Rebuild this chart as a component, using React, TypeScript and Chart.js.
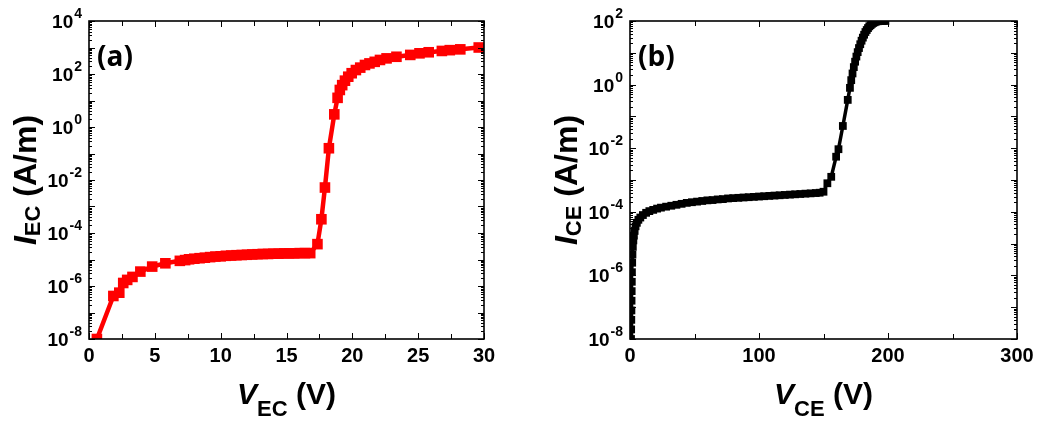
import React, { useEffect, useRef } from 'react';
import { Chart, registerables } from 'chart.js';

Chart.register(...registerables);

// ---------- Panel (a): I_EC vs V_EC ----------
const V_EC = [0.6, 1.85, 2.3, 2.6, 2.9, 3.3, 3.9, 4.8, 5.8, 6.9,
  7.3, 7.6, 8.0, 8.4, 8.8, 9.2, 9.6, 10.0, 10.4, 10.8,
  11.2, 11.6, 12.0, 12.4, 12.8, 13.2, 13.6, 14.0, 14.4, 14.8,
  15.2, 15.6, 16.0, 16.4, 16.8, 17.35, 17.65, 17.92, 18.22, 18.63,
  18.88, 19.05, 19.23, 19.44, 19.69, 19.95, 20.27, 20.6, 20.96, 21.3,
  21.7, 22.1, 22.6, 23.35, 24.4, 25.1, 25.8, 26.8, 27.4, 28.2, 29.6];
const I_EC = [1.0e-8, 4.2e-7, 5.6e-7, 1.3e-6, 1.7e-6, 2.2e-6, 3.5e-6, 5.4e-6, 7.2e-6, 8.9e-6,
  9.5e-6, 1.02e-5, 1.07e-5, 1.12e-5, 1.17e-5, 1.23e-5, 1.29e-5, 1.32e-5, 1.38e-5, 1.41e-5,
  1.45e-5, 1.48e-5, 1.51e-5, 1.55e-5, 1.58e-5, 1.62e-5, 1.62e-5, 1.66e-5, 1.66e-5, 1.70e-5,
  1.70e-5, 1.70e-5, 1.74e-5, 1.74e-5, 1.74e-5, 3.8e-5, 3.3e-4, 5.2e-3, 0.158, 3.0,
  12.6, 25, 38, 56, 79, 107, 141, 174, 219, 251,
  288, 339, 389, 447, 525, 603, 661, 741, 794, 851, 1000];

// ---------- Panel (b): I_CE vs V_CE ----------
const V_CE = [0.8, 0.9, 1.0, 1.1, 1.2, 1.3, 1.4, 1.5, 1.7, 1.9,
  2.2, 2.6, 3.0, 3.6, 4.3, 5.3, 6.5, 8, 10, 12.5,
  15, 18, 21, 24, 28, 32, 36, 40, 44, 48,
  52, 56, 60, 64, 68, 72, 76, 80, 84, 88,
  92, 96, 100, 104, 108, 112, 116, 120, 124, 128,
  132, 136, 140, 144, 147, 150, 153, 156, 159.8, 161.6,
  165, 168.8, 170.5, 171.5, 172.5, 173.5, 174.5, 175.5, 176.5, 177.5,
  178.5, 179.5, 180.5, 181.5, 182.5, 183.5, 184.5, 185.5, 186.5, 187.5,
  188.5, 189.5, 190.5, 192, 194, 196, 198];
const I_CE = [1.0e-8, 2.0e-8, 4.0e-8, 7.9e-8, 1.6e-7, 3.2e-7, 6.3e-7, 1.26e-6, 2.5e-6, 4.5e-6,
  7.9e-6, 1.26e-5, 1.78e-5, 2.5e-5, 3.5e-5, 4.5e-5, 5.6e-5, 6.6e-5, 7.9e-5, 9.3e-5,
  1.05e-4, 1.15e-4, 1.26e-4, 1.35e-4, 1.45e-4, 1.55e-4, 1.66e-4, 1.78e-4, 1.91e-4, 2.0e-4,
  2.09e-4, 2.19e-4, 2.29e-4, 2.34e-4, 2.45e-4, 2.51e-4, 2.63e-4, 2.69e-4, 2.75e-4, 2.82e-4,
  2.88e-4, 2.95e-4, 3.02e-4, 3.09e-4, 3.16e-4, 3.24e-4, 3.31e-4, 3.39e-4, 3.47e-4, 3.55e-4,
  3.63e-4, 3.72e-4, 3.80e-4, 3.89e-4, 3.98e-4, 4.27e-4, 7.9e-4, 1.26e-3, 5.4e-3, 9.3e-3,
  5.0e-2, 0.33, 0.79, 1.38, 2.24, 3.55, 5.25, 7.6, 10.5, 14.1,
  18.6, 24, 30, 37, 45, 52, 60, 68, 74, 81,
  87, 91, 95, 98, 100, 100, 100];

// ---------- Tick labels ----------
const X_TICKS_A = [0, 5, 10, 15, 20, 25, 30];
const X_TICKS_B = [0, 100, 200, 300];
const Y_EXP_A = [-8, -6, -4, -2, 0, 2, 4];
const Y_EXP_B = [-8, -6, -4, -2, 0, 2];

const FONT = '"Liberation Sans", Arial, sans-serif';

type PanelCfg = {
  xs: number[]; ys: number[]; color: string;
  xMax: number; yMinExp: number; yMaxExp: number;
  xTicks: number[]; yExps: number[];
  tag: string; xName: string; xSub: string; yName: string; ySub: string;
  pad: { left: number; right: number; top: number; bottom: number };
  pointR: number; lineW: number;
};

function drawRich(ctx: CanvasRenderingContext2D, parts: { t: string; font: string; dy: number }[], cx: number, by: number) {
  let total = 0;
  const widths = parts.map(p => { ctx.font = p.font; const w = ctx.measureText(p.t).width; total += w; return w; });
  let x = cx - total / 2;
  ctx.textAlign = 'left';
  ctx.textBaseline = 'alphabetic';
  parts.forEach((p, i) => { ctx.font = p.font; ctx.fillText(p.t, x, by + p.dy); x += widths[i]; });
}

function makeDecor(cfg: PanelCfg) {
  return {
    id: 'decor',
    afterDatasetsDraw(chart: any) {
      const { ctx, chartArea: ca, scales } = chart;
      const xs = scales.x, ys = scales.y;
      ctx.save();
      ctx.fillStyle = '#000';
      ctx.strokeStyle = '#000';
      // ticks
      ctx.lineWidth = 1;
      ctx.beginPath();
      const step = cfg.xTicks[1] - cfg.xTicks[0];
      for (let i = 0; i < cfg.xTicks.length; i++) {
        const vals = [cfg.xTicks[i]];
        if (i < cfg.xTicks.length - 1) vals.push(cfg.xTicks[i] + step / 2);
        vals.forEach((v, k) => {
          const px = Math.round(xs.getPixelForValue(v)) + 0.5;
          const len = k === 0 ? 6 : 5;
          ctx.moveTo(px, ca.bottom); ctx.lineTo(px, ca.bottom - len);
          ctx.moveTo(px, ca.top); ctx.lineTo(px, ca.top + len);
        });
      }
      for (let e = cfg.yMinExp; e <= cfg.yMaxExp; e++) {
        const py = Math.round(ys.getPixelForValue(Math.pow(10, e))) + 0.5;
        ctx.moveTo(ca.left, py); ctx.lineTo(ca.left + 6, py);
        ctx.moveTo(ca.right, py); ctx.lineTo(ca.right - 6, py);
        if (e < cfg.yMaxExp) {
          for (let m = 2; m <= 9; m++) {
            const q = Math.round(ys.getPixelForValue(m * Math.pow(10, e))) + 0.5;
            ctx.moveTo(ca.left, q); ctx.lineTo(ca.left + 3, q);
            ctx.moveTo(ca.right, q); ctx.lineTo(ca.right - 3, q);
          }
        }
      }
      ctx.stroke();
      // frame
      ctx.lineWidth = 1.6;
      ctx.strokeRect(ca.left, ca.top, ca.right - ca.left, ca.bottom - ca.top);

      // x tick labels
      ctx.font = `bold 20px ${FONT}`;
      ctx.textAlign = 'center';
      ctx.textBaseline = 'alphabetic';
      cfg.xTicks.forEach(v => {
        ctx.fillText(String(v), xs.getPixelForValue(v), ca.bottom + 23);
      });
      // y tick labels 10^e
      cfg.yExps.forEach(e => {
        const py = ys.getPixelForValue(Math.pow(10, e));
        ctx.font = `bold 14px ${FONT}`;
        const es = String(e);
        const ew = ctx.measureText(es).width;
        ctx.font = `bold 19px ${FONT}`;
        const bw = ctx.measureText('10').width;
        const right = ca.left - 7;
        ctx.textAlign = 'left';
        ctx.fillText('10', right - ew - 1 - bw, py + 7);
        ctx.font = `bold 14px ${FONT}`;
        ctx.fillText(es, right - ew, py - 3);
      });
      // x title
      const cx = (ca.left + ca.right) / 2;
      drawRich(ctx, [
        { t: cfg.xName, font: `italic bold 30px ${FONT}`, dy: 0 },
        { t: cfg.xSub, font: `bold 22px ${FONT}`, dy: 12 },
        { t: ' (V)', font: `bold 30px ${FONT}`, dy: 0 },
      ], cx, ca.bottom + 65);
      // y title
      const cy = (ca.top + ca.bottom) / 2;
      ctx.save();
      ctx.translate(ca.left - 53, cy);
      ctx.rotate(-Math.PI / 2);
      drawRich(ctx, [
        { t: cfg.yName, font: `italic bold 32px ${FONT}`, dy: 0 },
        { t: cfg.ySub, font: `bold 22px ${FONT}`, dy: 4 },
        { t: ' (A/m)', font: `bold 32px ${FONT}`, dy: 0 },
      ], 0, 0);
      ctx.restore();
      // panel tag
      ctx.font = `bold 28px "Open Sans", ${FONT}`;
      ctx.textAlign = 'left';
      ctx.fillText(cfg.tag, ca.left + 8, ca.top + 45);
      ctx.restore();
    },
  };
}

function Panel({ cfg, left }: { cfg: PanelCfg; left: number }) {
  const ref = useRef<HTMLCanvasElement | null>(null);
  useEffect(() => {
    if (!ref.current) return;
    const chart = new Chart(ref.current, {
      type: 'scatter',
      data: {
        datasets: [{
          data: cfg.xs.map((x, i) => ({ x, y: cfg.ys[i] })),
          showLine: true,
          borderColor: cfg.color,
          borderWidth: cfg.lineW,
          backgroundColor: cfg.color,
          pointStyle: 'rect',
          pointRadius: cfg.pointR,
          pointBorderWidth: 0,
          pointBackgroundColor: cfg.color,
          tension: 0,
          clip: 0,
        } as any],
      },
      options: {
        animation: false,
        responsive: false,
        devicePixelRatio: 1,
        layout: { padding: cfg.pad },
        plugins: { legend: { display: false }, tooltip: { enabled: false } },
        scales: {
          x: { type: 'linear', min: 0, max: cfg.xMax, display: false },
          y: { type: 'logarithmic', min: Math.pow(10, cfg.yMinExp), max: Math.pow(10, cfg.yMaxExp), display: false },
        },
      },
      plugins: [makeDecor(cfg)],
    });
    return () => chart.destroy();
  }, [cfg]);
  return (
    <canvas ref={ref} width={526} height={423}
      style={{ position: 'absolute', left, top: 0, width: 526, height: 423 }} />
  );
}

const CFG_A: PanelCfg = {
  xs: V_EC, ys: I_EC, color: '#ff0000', xMax: 30, yMinExp: -8, yMaxExp: 4,
  xTicks: X_TICKS_A, yExps: Y_EXP_A, tag: '(a)', xName: 'V', xSub: 'EC', yName: 'I', ySub: 'EC',
  pad: { left: 89, right: 42, top: 21, bottom: 84 }, pointR: 7.5, lineW: 4.5,
};
const CFG_B: PanelCfg = {
  xs: V_CE, ys: I_CE, color: '#000000', xMax: 300, yMinExp: -8, yMaxExp: 2,
  xTicks: X_TICKS_B, yExps: Y_EXP_B, tag: '(b)', xName: 'V', xSub: 'CE', yName: 'I', ySub: 'CE',
  pad: { left: 104, right: 35, top: 21, bottom: 84 }, pointR: 5.5, lineW: 3.5,
};

export default function App() {
  return (
    <div style={{ position: 'fixed', left: 0, top: 0, width: 1052, height: 423, background: '#fff' }}>
      <Panel cfg={CFG_A} left={0} />
      <Panel cfg={CFG_B} left={526} />
    </div>
  );
}
